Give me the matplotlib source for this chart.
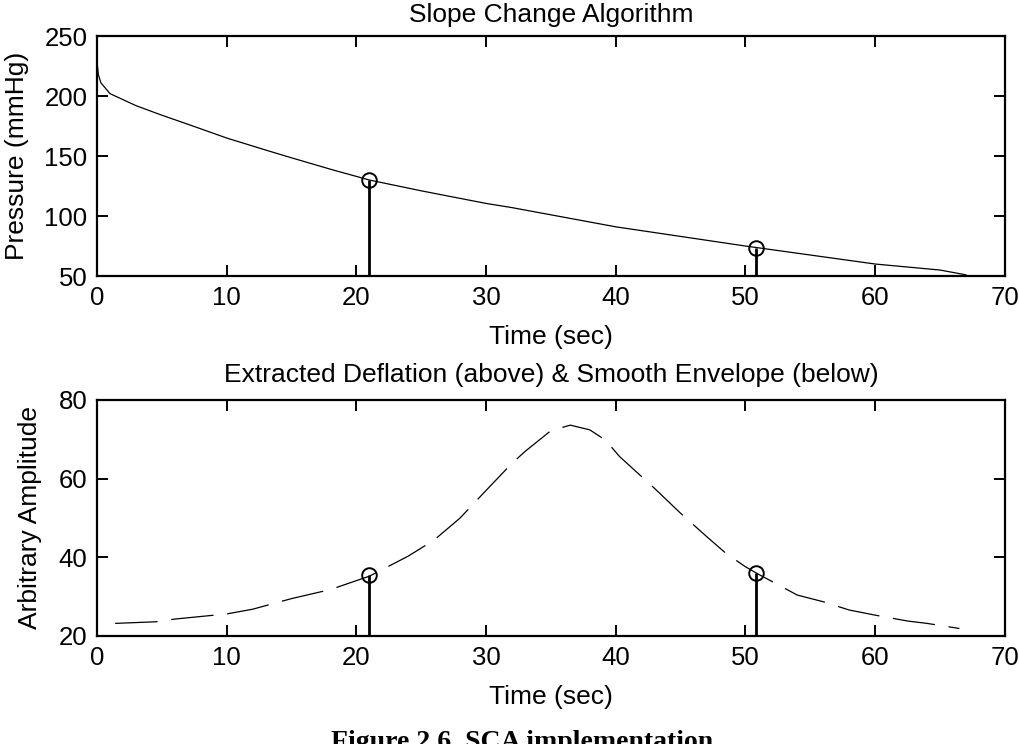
import numpy as np
import matplotlib
matplotlib.use('Agg')
import matplotlib.pyplot as plt

plt.rcParams['font.family'] = ['Liberation Sans', 'DejaVu Sans']

#%% data
# cuff pressure during deflation
tPress = [0.0, 0.1, 0.3, 1, 3, 5, 7, 10, 13, 15, 18, 21, 25, 30, 32, 35, 40, 45,
          50, 55, 60, 65, 67]
press = [229, 218, 211, 202, 192, 184, 176.5, 165, 155, 148.5, 139, 130, 121, 110.5,
         107, 101, 91, 83, 75, 67.5, 60, 55, 51]
# smooth oscillation envelope
tEnv = [1.4, 4.5, 6, 10, 12, 15, 18, 21, 24, 26, 28, 30, 32, 33, 35, 36.5, 38,
        39.2, 40.3, 43, 45, 47, 48.5, 50, 51, 54, 56, 58, 60, 62.5, 64, 66.5]
env = [23.2, 23.6, 24.3, 25.6, 26.8, 29.5, 31.8, 35.2, 40.3, 44.4, 50, 57, 63.9,
       66.9, 72.2, 73.6, 72.4, 69.8, 65.6, 57.5, 51.2, 45.3, 41, 37.6, 35.7, 30.4,
       28.7, 26.6, 25.3, 23.8, 23.2, 21.9]
# detected systolic / diastolic points
tMark = [21.0, 50.8]
pressMark = [130, 73]
envMark = [35.5, 36]

fs = 19
fig = plt.figure(figsize=(10.2, 7.44), dpi=100)
ax1 = fig.add_axes([0.0951, 0.629, 0.890, 0.3226])
ax2 = fig.add_axes([0.0951, 0.1452, 0.890, 0.3172])

def style(ax, ylo, yhi, ystep):
    ax.set_xlim(0, 70)
    ax.set_ylim(ylo, yhi)
    ax.set_xticks(np.arange(0, 71, 10))
    ax.set_yticks(np.arange(ylo, yhi + 1, ystep))
    ax.tick_params(direction='in', top=True, right=True, length=8, width=1.4,
                   labelsize=18.5)
    ax.tick_params(axis='x', pad=7)
    ax.tick_params(axis='y', pad=7)
    for sp in ax.spines.values():
        sp.set_linewidth(1.6)
    ax.set_xlabel('Time (sec)', fontsize=fs, labelpad=11)

# top: pressure with marked points
ax1.plot(tPress, press, 'k-', lw=0.9)
ax1.vlines(tMark, 50, pressMark, colors='k', lw=2)
ax1.plot(tMark, pressMark, 'o', ms=10.5, mfc='none', mec='k', mew=1.4)
style(ax1, 50, 250, 50)
ax1.set_ylabel('Pressure (mmHg)', fontsize=fs, labelpad=11)
ax1.set_title('Slope Change Algorithm', fontsize=fs, pad=10)

# bottom: envelope (dashed)
ax2.plot(tEnv, env, 'k-', lw=0.9, dashes=(34, 11))
ax2.vlines(tMark, 20, envMark, colors='k', lw=2)
ax2.plot(tMark, envMark, 'o', ms=10.5, mfc='none', mec='k', mew=1.4)
style(ax2, 20, 80, 20)
ax2.set_ylabel('Arbitrary Amplitude', fontsize=fs, labelpad=12)
ax2.set_title('Extracted Deflation (above) & Smooth Envelope (below)',
              fontsize=fs, pad=13)

fig.text(0.512, 1 - 730/744, 'Figure 2.6. SCA implementation', ha='center',
         va='top', fontsize=20, fontweight='bold', family='Liberation Serif')

plt.savefig('out.png', dpi=100)
